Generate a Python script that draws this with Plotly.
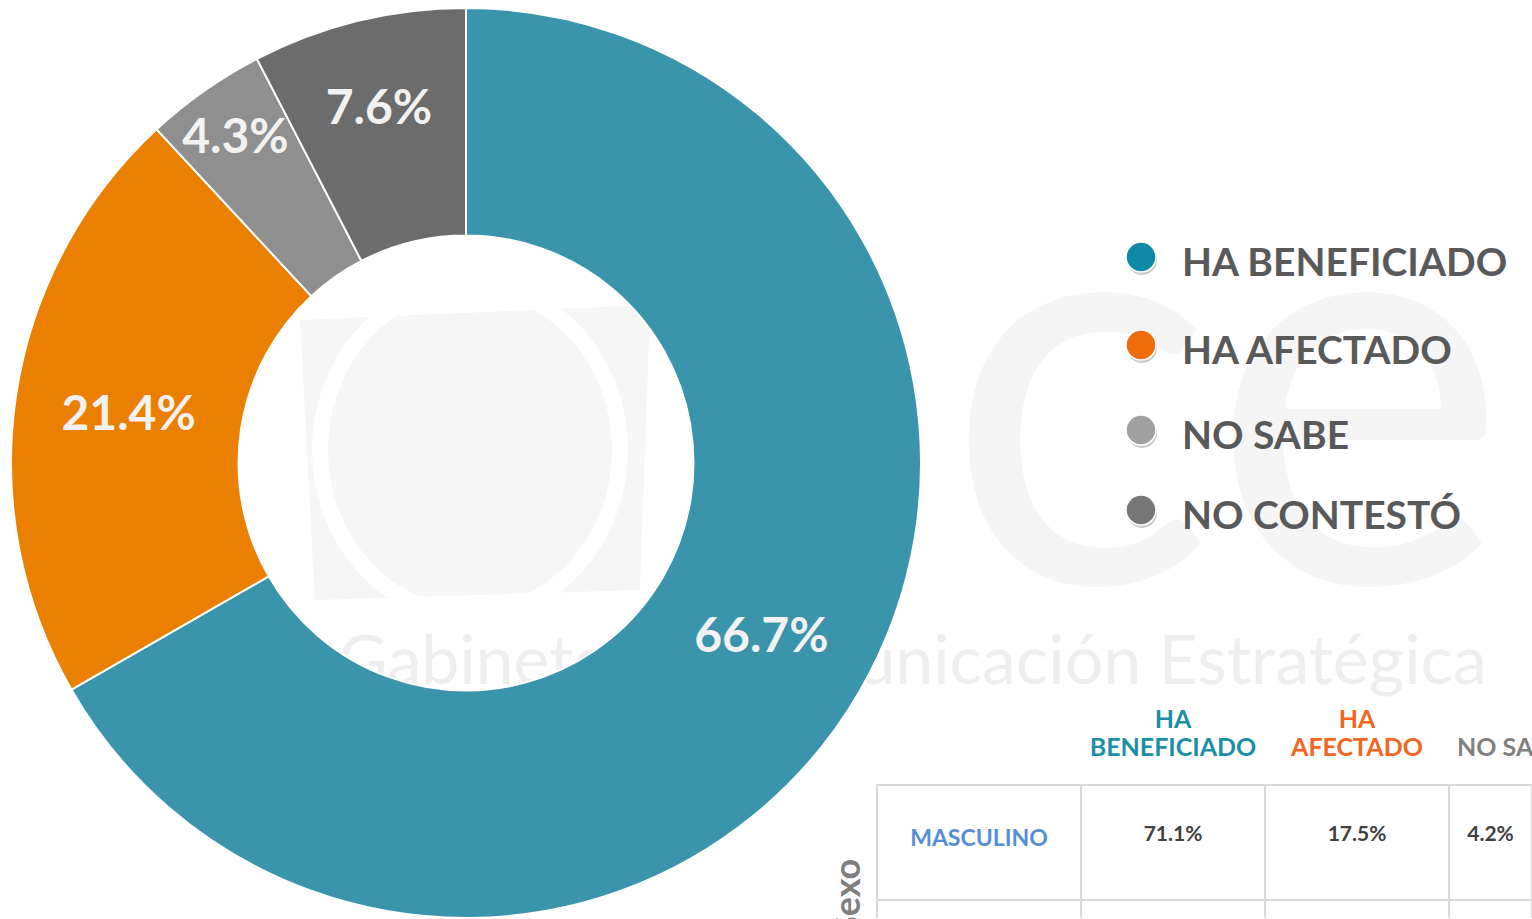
import base64
import plotly.graph_objects as go

W, H = 1532, 919

# ---- data ----
categories = ["HA BENEFICIADO", "HA AFECTADO", "NO SABE", "NO CONTESTÓ"]
values = [66.7, 21.4, 4.3, 7.6]
slice_colors = ["#3A94AB", "#EA7F00", "#8F8F8F", "#6C6C6C"]
legend_colors = ["#0E8AA7", "#EF6C08", "#A0A0A0", "#777777"]

header_row1 = ["", "HA", "HA", ""]
header_row2 = ["", "BENEFICIADO", "AFECTADO", "NO\u00a0SABE"]
header_colors = ["#FFFFFF", "#1A8FA6", "#F26522", "#808080"]
row_labels = ["MASCULINO", ""]
beneficiado_col = ["71.1%", ""]
afectado_col = ["17.5%", ""]
nosabe_col = ["4.2%", ""]
group_title = "Sexo"

FONT = "Lato"


def px(x):
    return x / W


def py(y):
    return 1 - y / H


fig = go.Figure()

# ---- donut ----
fig.add_trace(go.Pie(
    labels=categories,
    values=values,
    sort=False,
    direction="clockwise",
    rotation=0,
    hole=0.5,
    marker=dict(colors=slice_colors, line=dict(color="#FFFFFF", width=2)),
    texttemplate="%{value:.1f}%",
    textposition="inside",
    insidetextorientation="horizontal",
    textfont=dict(family=FONT, size=48, color="#F2F2F2", weight="bold"),
    showlegend=False,
    domain=dict(x=[px(10), px(922)], y=[py(918), py(8)]),
    hoverinfo="label+percent",
))

# ---- table ----
def lead(col):
    return ["\u00a0<br>" + v if v else "" for v in col]


fig.add_trace(go.Table(
    domain=dict(x=[px(877), 1], y=[0, py(701)]),
    columnwidth=[204, 184, 184, 83],
    header=dict(
        values=[[a, b, ""] for a, b in zip(header_row1, header_row2)],
        align=["center", "center", "center", "left"],
        height=28,
        fill=dict(color="rgba(0,0,0,0)"),
        line=dict(color="rgba(0,0,0,0)", width=0),
        font=dict(family=FONT, size=25, color=header_colors, weight="bold"),
    ),
    cells=dict(
        values=[lead(row_labels), lead(beneficiado_col), lead(afectado_col), lead(nosabe_col)],
        align="center",
        height=115,
        fill=dict(color="#FFFFFF"),
        line=dict(color="#D9D9D9", width=2),
        font=dict(family=FONT, size=[23, 21, 21, 21],
                  color=["#558ED5", "#404040", "#404040", "#404040"], weight="bold"),
    ),
))

# ---- custom legend (circles + labels) ----
legend_y = [257, 345, 430, 510]
shapes = []
annotations = []
for name, col, yc in zip(categories, legend_colors, legend_y):
    shapes.append(dict(type="circle", xref="paper", yref="paper",
                       x0=px(1141 - 14), x1=px(1141 + 16), y0=py(yc - 12), y1=py(yc + 18),
                       fillcolor="#C9C9C9", line=dict(width=0), layer="above"))
    shapes.append(dict(type="circle", xref="paper", yref="paper",
                       x0=px(1141 - 15), x1=px(1141 + 15), y0=py(yc - 15), y1=py(yc + 15),
                       fillcolor=col, line=dict(color="#FFFFFF", width=1.5), layer="above"))
    annotations.append(dict(text=name, x=px(1180), y=py(yc + 4), xref="paper", yref="paper",
                            xanchor="left", yanchor="middle", showarrow=False,
                            font=dict(family=FONT, size=39, color="#595959", weight="bold")))

annotations.append(dict(
    text=group_title, x=px(846), y=py(898), xref="paper", yref="paper",
    textangle=-90, showarrow=False, xanchor="center", yanchor="middle",
    font=dict(family=FONT, size=36, color="#7F7F7F", weight="bold"),
))

# ---- watermark ----
svg = (
    "<svg xmlns='http://www.w3.org/2000/svg' width='%d' height='%d'>" % (W, H)
    + "<path d='M300 320 L650 305 L640 590 L315 600 Z' fill='#F6F6F6'/>"
    + "<ellipse cx='470' cy='450' rx='150' ry='165' fill='none' stroke='#FFFFFF' stroke-width='16'/>"
    + "<text x='945' y='583' font-family='Lato' font-size='565' fill='#F5F5F5'>ce</text>"
    + "<text x='338' y='684' font-family='Lato' font-size='68' fill='#EEEEEE'>Gabinete de Comunicación Estratégica</text>"
    + "</svg>"
)
src = "data:image/svg+xml;base64," + base64.b64encode(svg.encode("utf-8")).decode("ascii")

fig.update_layout(
    width=W, height=H,
    margin=dict(l=0, r=0, t=0, b=0),
    paper_bgcolor="#FFFFFF",
    plot_bgcolor="rgba(0,0,0,0)",
    showlegend=False,
    uniformtext=dict(minsize=48, mode="show"),
    shapes=shapes,
    annotations=annotations,
    images=[dict(source=src, xref="paper", yref="paper", x=0, y=1,
                 sizex=1, sizey=1, xanchor="left", yanchor="top",
                 sizing="stretch", layer="below")],
)

fig.write_html("out.html", config={"displayModeBar": False},
               post_script="document.body.style.margin='0px';")
